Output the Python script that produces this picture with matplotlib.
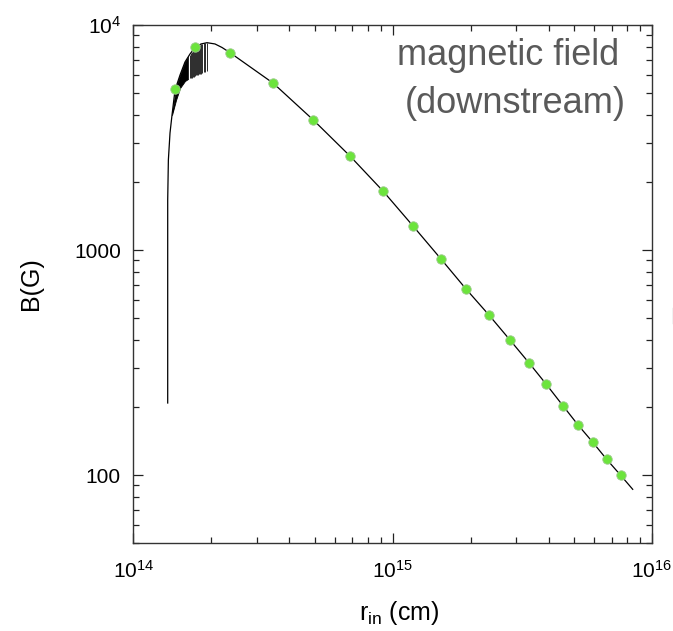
import matplotlib
matplotlib.use("Agg")
import matplotlib.pyplot as plt
from matplotlib.ticker import LogLocator, NullFormatter, LogFormatterMathtext
from matplotlib.lines import Line2D

plt.rcParams['font.family'] = ['Liberation Sans', 'DejaVu Sans']
plt.rcParams['mathtext.default'] = 'regular'

# -- data --
# main curve B(r_in)
r_curve = [1.357e14, 1.357e14, 1.365e14, 1.385e14, 1.41e14, 1.448e14, 1.514e14,
           1.582e14, 1.654e14, 1.729e14, 1.824e14, 1.924e14, 2.065e14, 2.198e14,
           2.36e14, 3.466e14, 4.943e14, 6.847e14, 9.18e14, 1.198e15, 1.536e15,
           1.918e15, 2.352e15, 2.835e15, 3.356e15, 3.902e15, 4.539e15, 5.184e15,
           5.906e15, 6.689e15, 7.574e15, 8.426e15]
B_curve = [209, 1668, 2512, 3311, 3981, 5141, 5995,
           6846, 7431, 7942, 8235, 8343, 8235, 7943,
           7533, 5508, 3784, 2616, 1828, 1279, 912,
           671, 514, 398, 315, 254, 203, 167,
           140, 117.4, 99.7, 86.4]

# dense oscillating part (upper / lower envelope)
r_band = [1.41e14, 1.461e14, 1.514e14, 1.582e14, 1.625e14]
B_band_hi = [3981, 5301, 5995, 6846, 7206]
B_band_lo = [3981, 4642, 5248, 5638, 5754]

# separated spikes near the peak
r_spikes = [1.625e14, 1.648e14, 1.662e14, 1.680e14, 1.699e14, 1.714e14, 1.729e14,
            1.745e14, 1.761e14, 1.776e14, 1.792e14, 1.808e14, 1.824e14, 1.848e14,
            1.873e14, 1.898e14, 1.924e14]
B_spikes_lo = [5754, 5790, 5812, 5840, 5873, 5900, 5933, 5965, 5995, 6010,
               6026, 6040, 6058, 6121, 6152, 6184, 6249]
B_spikes_hi = [7206, 7380, 7470, 7600, 7703, 7800, 7903, 7960, 8025, 8070,
               8108, 8150, 8192, 8235, 8277, 8318, 8343]

# green markers
r_pts = [1.448e14, 1.734e14, 2.36e14, 3.466e14, 4.943e14, 6.847e14, 9.18e14,
         1.198e15, 1.536e15, 1.918e15, 2.352e15, 2.835e15, 3.356e15, 3.902e15,
         4.539e15, 5.184e15, 5.906e15, 6.689e15, 7.574e15]
B_pts = [5180, 7959, 7533, 5508, 3784, 2616, 1828,
         1279, 912, 671, 514, 398, 315, 254,
         203, 167, 140, 117.4, 99.7]

y_ticks = [100, 1000, 10000]
y_ticklabels = ['100', '1000', '$10^4$']

fig = plt.figure(figsize=(6.73, 6.31), dpi=100)
ax = fig.add_axes([0.1981, 0.1395, 0.7707, 0.8209])

ax.fill_between(r_band, B_band_lo, B_band_hi, color='black', lw=0.6)
ax.vlines(r_spikes, B_spikes_lo, B_spikes_hi, color='#2a2a2a', lw=0.7)
ax.plot(r_curve, B_curve, color='black', lw=0.9)
ax.plot(r_pts, B_pts, 'o', ms=6.8, mfc='#6ce43c', mec='#9cc98c', mew=0.6)

ax.set_xscale('log')
ax.set_yscale('log')
ax.set_xlim(1e14, 1e16)
ax.set_ylim(49.9, 1e4)

ax.xaxis.set_major_locator(LogLocator(base=10))
ax.xaxis.set_minor_locator(LogLocator(base=10, subs=range(2, 10)))
ax.xaxis.set_major_formatter(LogFormatterMathtext())
ax.xaxis.set_minor_formatter(NullFormatter())
ax.set_yticks(y_ticks)
ax.set_yticklabels(y_ticklabels)
ax.yaxis.set_minor_locator(LogLocator(base=10, subs=range(2, 10)))
ax.yaxis.set_minor_formatter(NullFormatter())

ax.tick_params(which='both', direction='in', top=True, right=True,
               width=0.9, colors='#222222', labelcolor='black', labelsize=15)
ax.tick_params(which='major', length=7)
ax.tick_params(which='minor', length=4.3)
ax.tick_params(axis='x', pad=12)
ax.tick_params(axis='y', pad=9)
for s in ax.spines.values():
    s.set_linewidth(1.0)
    s.set_color('#333333')

ax.set_ylabel('B(G)', fontsize=18)
ax.yaxis.set_label_coords(-0.174, 0.5)
ax.set_xlabel('$r_{in}$ (cm)', fontsize=18)
ax.xaxis.set_label_coords(0.512, -0.108)

ax.text(0.7233, 0.9228, 'magnetic field', transform=ax.transAxes,
        ha='center', va='baseline', fontsize=26, color='#5a5a5a')
ax.text(0.7359, 0.8301, '(downstream)', transform=ax.transAxes,
        ha='center', va='baseline', fontsize=26, color='#5a5a5a')

# small grey mark at the right edge of the picture
fig.add_artist(Line2D([672.5 / 673] * 2, [1 - 308 / 631, 1 - 323 / 631],
                      color='#bbbbbb', lw=1, transform=fig.transFigure))

fig.savefig('out.png', dpi=100)
